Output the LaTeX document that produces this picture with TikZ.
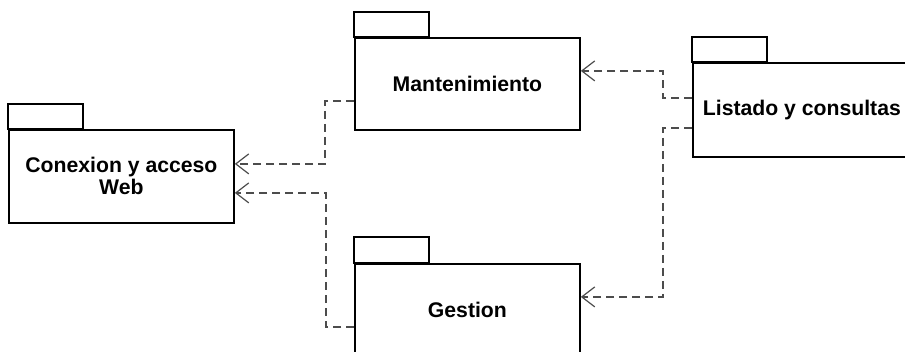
\documentclass[tikz,border=0pt]{standalone}
\usepackage{fontspec}
\setmainfont{Liberation Sans}
\usetikzlibrary{arrows.meta}
\begin{document}
\begin{tikzpicture}[x=1pt,y=-1pt,
 pkg/.style={draw=black,line width=1.8pt,fill=white,inner sep=0pt,anchor=north west,
   font=\fontsize{21.2}{22}\selectfont\bfseries,align=center},
 dep/.style={draw=black!70,line width=1.4pt,dash pattern=on 8pt off 5pt,
   -{Straight Barb[length=13pt,width=20pt,line width=1.2pt]}}]
\useasboundingbox (0,0) rectangle (905,351);
\clip (0,0) rectangle (905,351);
% packages
\node[pkg,minimum width=225pt,minimum height=93pt] (con) at (8,129) {Conexion y acceso\\Web};
\draw[pkg] (con.north west) rectangle ++(75,-25);
\node[pkg,minimum width=225pt,minimum height=92pt] (man) at (354,37) {Mantenimiento};
\draw[pkg] (man.north west) rectangle ++(75,-25);
\node[pkg,minimum width=218pt,minimum height=94pt] (lis) at (692,62) {Listado y consultas};
\draw[pkg] (lis.north west) rectangle ++(75,-25);
\node[pkg,minimum width=225pt,minimum height=92pt] (ges) at (354,263) {Gestion};
\draw[pkg] (ges.north west) rectangle ++(75,-26);
% dependencies
\draw[dep] ([yshift=-17pt]man.west) -- ++(-29,0) |- ([yshift=12.5pt]con.east);
\draw[dep] ([yshift=-17pt]ges.west) -- ++(-28,0) |- ([yshift=-16.5pt]con.east);
\draw[dep] ([yshift=12pt]lis.west) -- ++(-29,0) |- ([yshift=13pt]man.east);
\draw[dep] ([yshift=-18pt]lis.west) -- ++(-29,0) |- ([yshift=13pt]ges.east);
\end{tikzpicture}
\end{document}
